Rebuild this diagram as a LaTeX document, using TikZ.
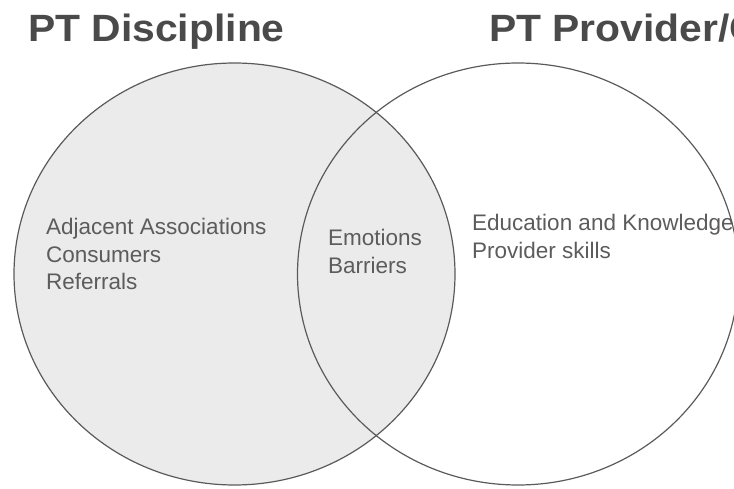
\documentclass[tikz,border=0pt]{standalone}
\usepackage{fontspec}
\setmainfont{Liberation Sans}
\usetikzlibrary{shapes.geometric}
\definecolor{ringline}{HTML}{5A5A5A}
\definecolor{ringfill}{HTML}{EBEBEB}
\definecolor{titlegray}{HTML}{4A4A4A}
\definecolor{bodygray}{HTML}{5C5C5C}
\newcommand{\widehead}[1]{\scalebox{1.075}[1]{#1}}
\begin{document}
\begin{tikzpicture}[x=1pt,y=-1pt,
  ring/.style={ellipse, draw=ringline, line width=1.2pt, inner sep=0pt,
    minimum width=441pt, minimum height=422pt},
  heading/.style={anchor=base west, inner sep=0pt, text=titlegray,
    font=\fontsize{38}{45}\selectfont\bfseries},
  itemlist/.style={anchor=base west, inner sep=0pt, text=bodygray,
    font=\fontsize{22.5}{27.5}\selectfont}]
  \useasboundingbox (0,0) rectangle (734,489);
  % the two overlapping circles
  \node[ring, fill=ringfill] (discipline) at (234.5,274) {};
  \node[ring] (provider) at (518,274) {};
  % headings
  \node[heading] (discTitle) at (28,42) {\widehead{PT Discipline}};
  \node[heading] (provTitle) at (489,42) {\widehead{PT Provider/C}};
  % contents of each region
  \node[itemlist] (discItems) at (46,235)
    {\begin{tabular}[t]{@{}l@{}}Adjacent Associations\\ Consumers\\ Referrals\end{tabular}};
  \node[itemlist] (sharedItems) at (328,246)
    {\begin{tabular}[t]{@{}l@{}}Emotions\\ Barriers\end{tabular}};
  \node[itemlist] (provItems) at (472,231)
    {\begin{tabular}[t]{@{}l@{}}Education and Knowledge\\ Provider skills\end{tabular}};
\end{tikzpicture}
\end{document}
